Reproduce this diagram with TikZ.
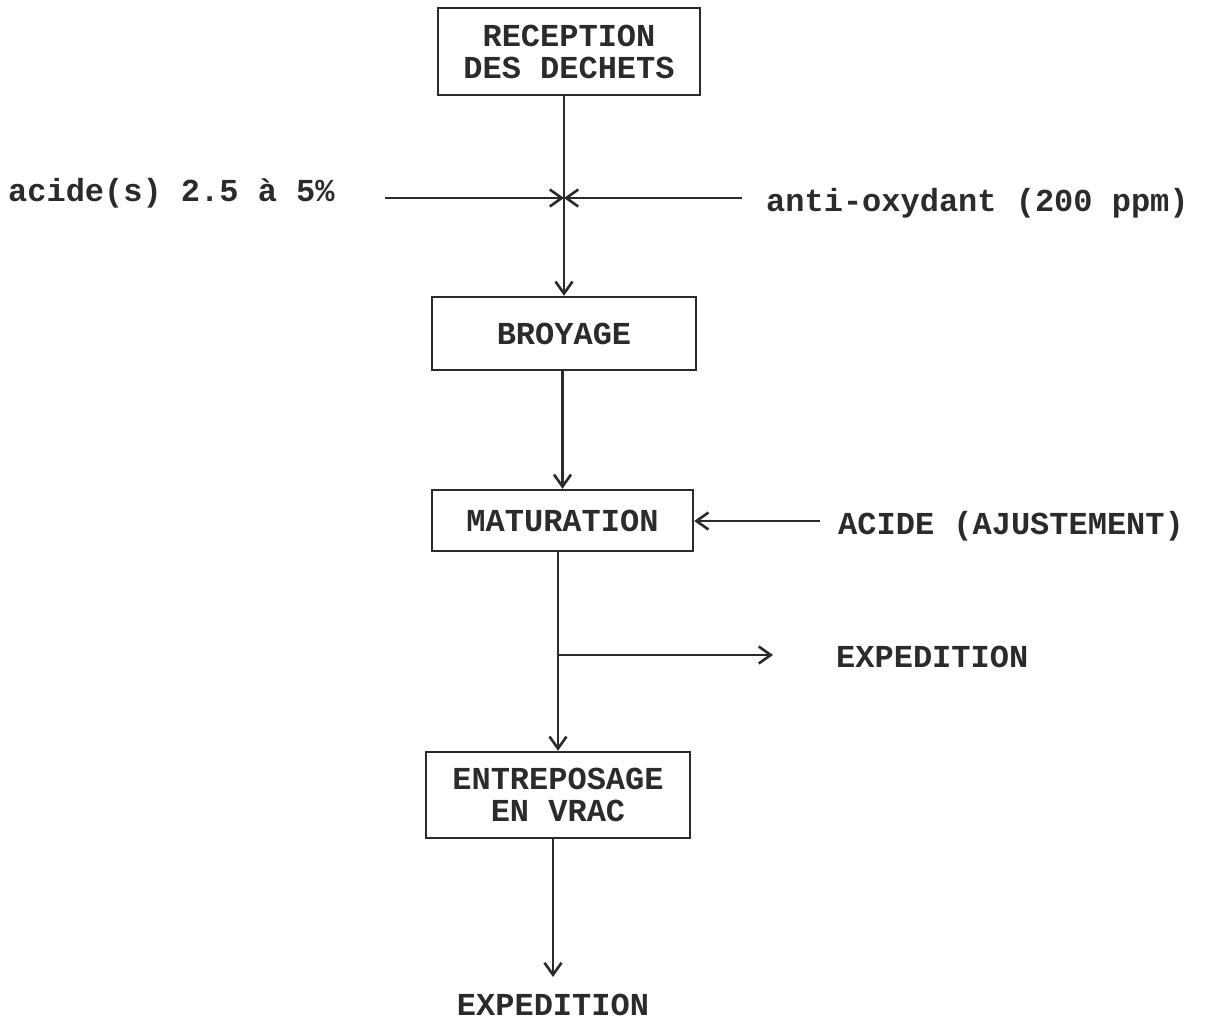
\documentclass[tikz,border=0pt]{standalone}
\usepackage{fontspec}
\setmainfont{Liberation Mono}
\usetikzlibrary{arrows.meta}
\definecolor{ink}{HTML}{2B2B2B}
\tikzset{
  txt/.style={text=ink, font=\bfseries\fontsize{32}{32}\selectfont},
  box/.style={txt, draw=ink, line width=2.4pt, inner sep=0pt, align=center},
  lbl/.style={txt, inner sep=0pt, anchor=west},
  arr/.style={draw=ink, line width=2.4pt, -{Straight Barb[length=12pt,width=17pt,line width=2.6pt]}},
}
\begin{document}
\begin{tikzpicture}[x=1pt,y=-1pt]
\useasboundingbox (0,0) rectangle (1208,1021);
\node[box, minimum width=262pt, minimum height=87pt] (rec) at (569,51.5) {RECEPTION\\DES DECHETS};
\node[box, minimum width=264pt, minimum height=73pt] (broy) at (564,333.5) {BROYAGE};
\node[box, minimum width=261pt, minimum height=61pt] (mat) at (562.5,520.5) {MATURATION};
\node[box, minimum width=264pt, minimum height=86pt] (ent) at (558,795) {ENTREPOSAGE\\EN VRAC};

\node[lbl] (acid) at (8,193) {acide(s) 2.5 à 5\%};
\node[lbl] (anti) at (766,203) {anti-oxydant (200 ppm)};
\node[lbl] (aj) at (838,526) {ACIDE (AJUSTEMENT)};
\node[lbl] (exp1) at (836,657) {EXPEDITION};
\node[txt, inner sep=0pt] (exp2) at (553,1005) {EXPEDITION};

\coordinate (j1) at (564,198);
\coordinate (la) at (385,198);
\coordinate (ra) at (742,198);
\coordinate (am) at (820,521);
\coordinate (j2) at (558,655);
\coordinate (be) at (773,655);
\coordinate (e2) at (553,977);

\draw[arr] (rec.south -| j1) -- (broy.north -| j1);
\draw[arr] (la) -- (j1);
\draw[arr] (ra) -- (j1);
\draw[arr] (broy.south -| mat) -- (mat.north);
\draw[arr] (am) -- (mat.east |- am);
\draw[arr] (mat.south -| j2) -- (ent.north -| j2);
\draw[arr] (j2) -- (be);
\draw[arr] (ent.south -| e2) -- (e2);
\end{tikzpicture}
\end{document}
